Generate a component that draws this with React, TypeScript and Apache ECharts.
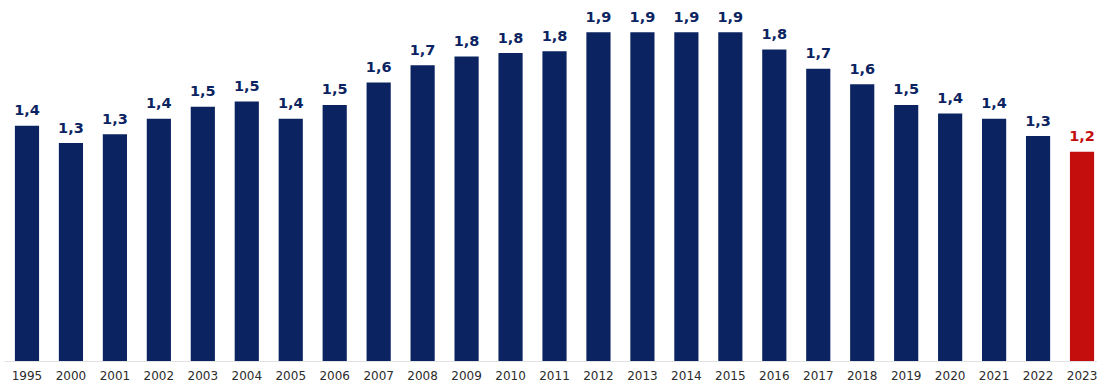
import React, { useEffect, useRef } from "react";
import * as echarts from "echarts";

const categories = [
  "1995", "2000", "2001", "2002", "2003", "2004", "2005", "2006", "2007", "2008",
  "2009", "2010", "2011", "2012", "2013", "2014", "2015", "2016", "2017", "2018",
  "2019", "2020", "2021", "2022", "2023",
];
const values = [
  1.36, 1.26, 1.31, 1.4, 1.47, 1.5, 1.4, 1.48, 1.61, 1.71,
  1.76, 1.78, 1.79, 1.9, 1.9, 1.9, 1.9, 1.8, 1.69, 1.6,
  1.48, 1.43, 1.4, 1.3, 1.21,
];
const highlightYear = "2023";

const NAVY = "#0b2461";
const RED = "#c40d0d";

export default function App() {
  const ref = useRef<HTMLDivElement>(null);
  useEffect(() => {
    if (!ref.current) return;
    const chart = echarts.init(ref.current, null, { renderer: "svg" });
    chart.setOption({
      animation: false,
      grid: {
        left: 5,
        width: 1099,
        top: 15,
        bottom: 21,
        containLabel: false,
        outerBoundsMode: "none",
      },
      xAxis: {
        type: "category",
        data: categories,
        axisLine: { show: true, lineStyle: { color: "#e2e2e2", width: 1 } },
        axisTick: { show: false },
        axisLabel: {
          color: "#2b2b2b",
          fontFamily: "DejaVu Sans",
          fontSize: 12,
          margin: 9,
          interval: 0,
        },
      },
      yAxis: {
        type: "value",
        min: 0,
        max: 2,
        show: false,
        splitLine: { show: false },
      },
      series: [
        {
          type: "bar",
          barWidth: "55%",
          data: values.map((v, i) => {
            const c = categories[i] === highlightYear ? RED : NAVY;
            return {
              value: v,
              itemStyle: { color: c },
              label: { color: c },
            };
          }),
          label: {
            show: true,
            position: "top",
            distance: 8,
            fontFamily: "DejaVu Sans",
            fontWeight: "bold",
            fontSize: 14.5,
            formatter: (p: any) => Number(p.value).toFixed(1).replace(".", ","),
          },
        },
      ],
    });
    return () => chart.dispose();
  }, []);
  return (
    <div
      ref={ref}
      style={{ position: "fixed", left: 0, top: 0, width: 1097, height: 382, background: "#fff" }}
    />
  );
}
